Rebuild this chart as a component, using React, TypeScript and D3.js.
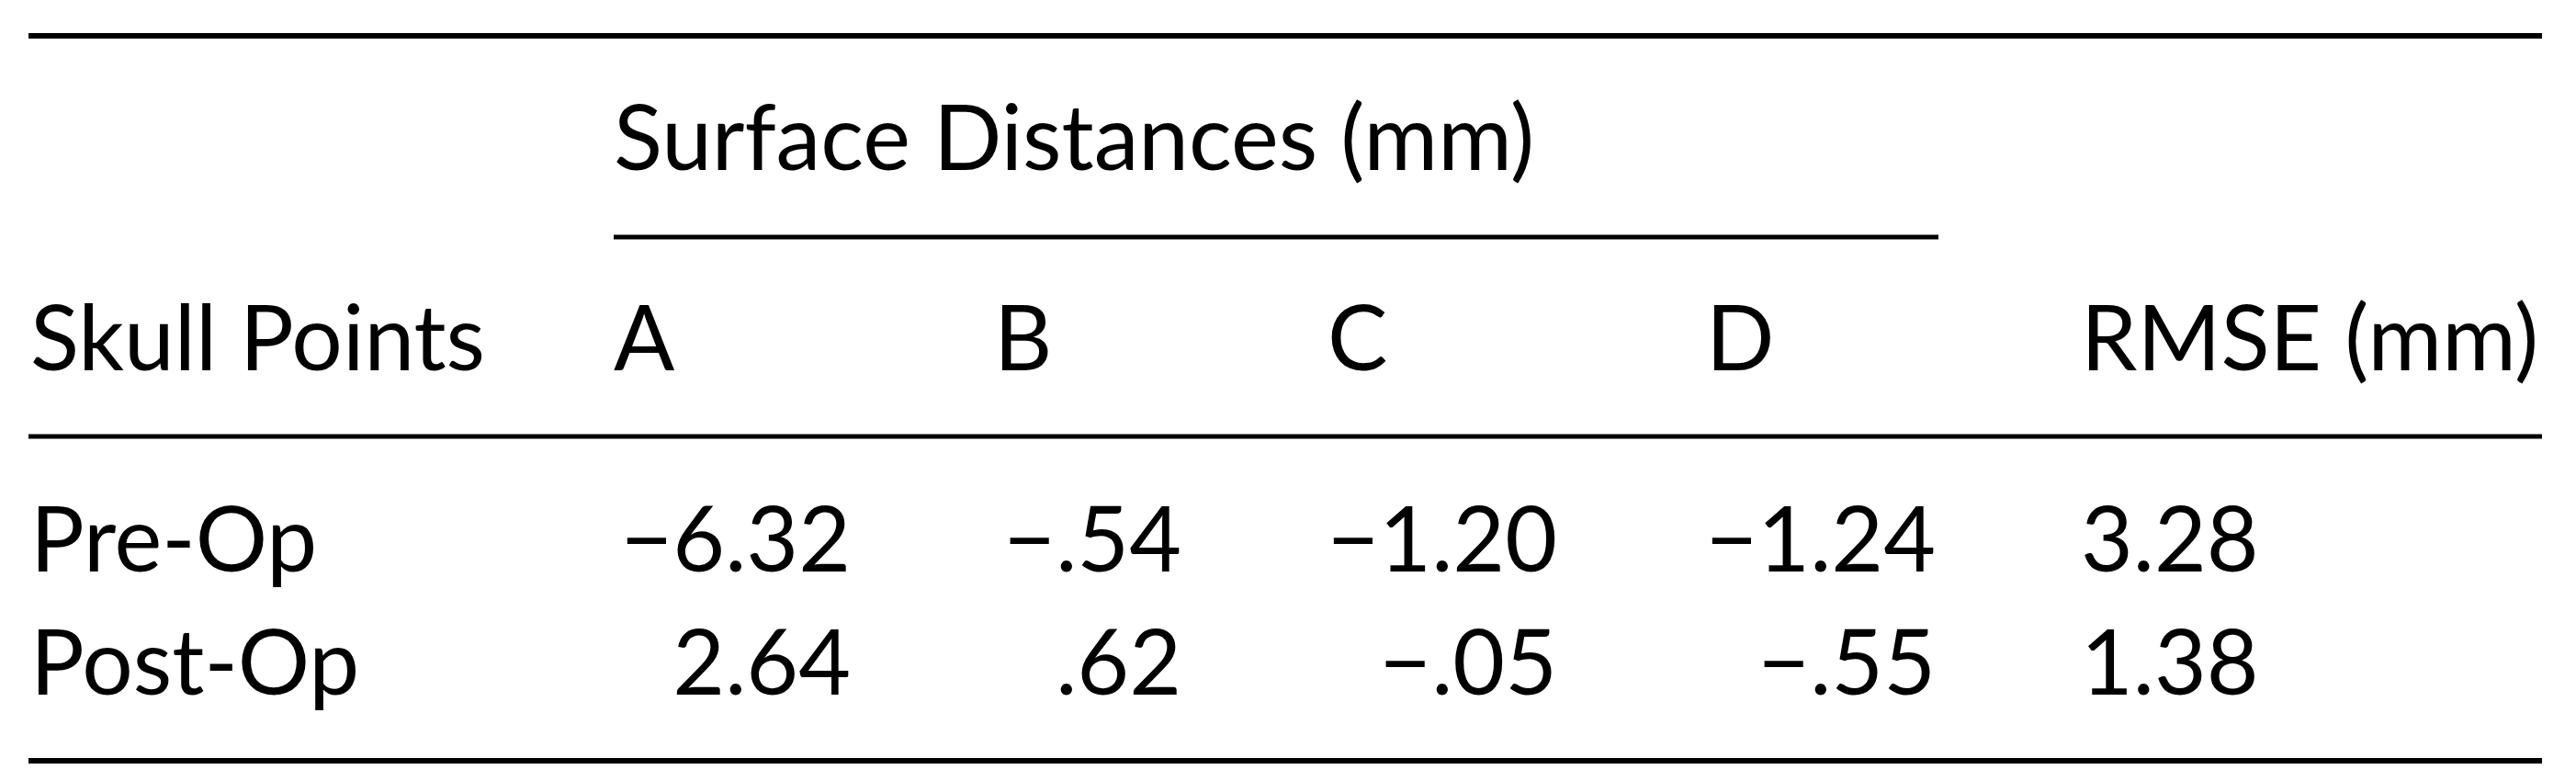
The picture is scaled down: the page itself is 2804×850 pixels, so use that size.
import React, { useEffect, useRef } from 'react';
import * as d3 from 'd3';

const stubTitle = 'Skull Points';
const groupTitle = 'Surface Distances (mm)';
const rmseTitle = 'RMSE (mm)';
const columns = ['A', 'B', 'C', 'D'];
const rowLabels = ['Pre-Op', 'Post-Op'];
const preOp = [-6.32, -0.54, -1.2, -1.24];
const postOp = [2.64, 0.62, -0.05, -0.55];
const rmse = [3.28, 1.38];

const width = 2804;
const height = 850;
const fontFamily = 'Lato, "Noto Sans", sans-serif';
const fontSize = 98;

// d3.format already gives the real minus sign; drop the leading zero like the print table
const fmt = (v: number) => d3.format('.2f')(v).replace(/^(\u2212?)0\./, '$1.');

const App: React.FC = () => {
    const svgRef = useRef<SVGSVGElement | null>(null);

    useEffect(() => {
        if (!svgRef.current) return;
        const svg = d3.select(svgRef.current);
        svg.selectAll('*').remove();

        const ruleLeft = 31;
        const ruleRight = 2767;

        const headerX = d3.scaleOrdinal<string, number>().domain(columns).range([668, 1082, 1445, 1857]);
        const valueRight = d3.scaleOrdinal<string, number>().domain(columns).range([926, 1286, 1695, 2107]);
        const rowY = d3.scalePoint<string>().domain(rowLabels).range([622, 756]);
        const rmseX = 2265;

        const rule = (y: number, x1: number, x2: number, w: number) =>
            svg.append('line')
                .attr('x1', x1).attr('x2', x2)
                .attr('y1', y).attr('y2', y)
                .attr('stroke', '#000')
                .attr('stroke-width', w);

        rule(39, ruleLeft, ruleRight, 6);
        rule(258, 668, 2110, 5);
        rule(475, ruleLeft, ruleRight, 5);
        rule(828, ruleLeft, ruleRight, 6);

        const text = (x: number, y: number, s: string, anchor = 'start') =>
            svg.append('text')
                .attr('x', x).attr('y', y)
                .attr('text-anchor', anchor)
                .attr('font-family', fontFamily)
                .attr('font-size', fontSize)
                .attr('fill', '#000')
                .text(s);

        text(668, 185, groupTitle);
        text(33, 403, stubTitle);
        columns.forEach(c => text(headerX(c), 403, c));
        text(rmseX, 403, rmseTitle);

        const rows = [preOp, postOp];
        rowLabels.forEach((r, i) => {
            const y = rowY(r)!;
            text(33, y, r);
            columns.forEach((c, j) => text(valueRight(c), y, fmt(rows[i][j]), 'end'));
            text(rmseX, y, fmt(rmse[i]));
        });
    }, []);

    return (
        <svg
            ref={svgRef}
            width={width}
            height={height}
            style={{ position: 'absolute', left: 0, top: 0, background: '#fff' }}
        ></svg>
    );
};

export default App;
